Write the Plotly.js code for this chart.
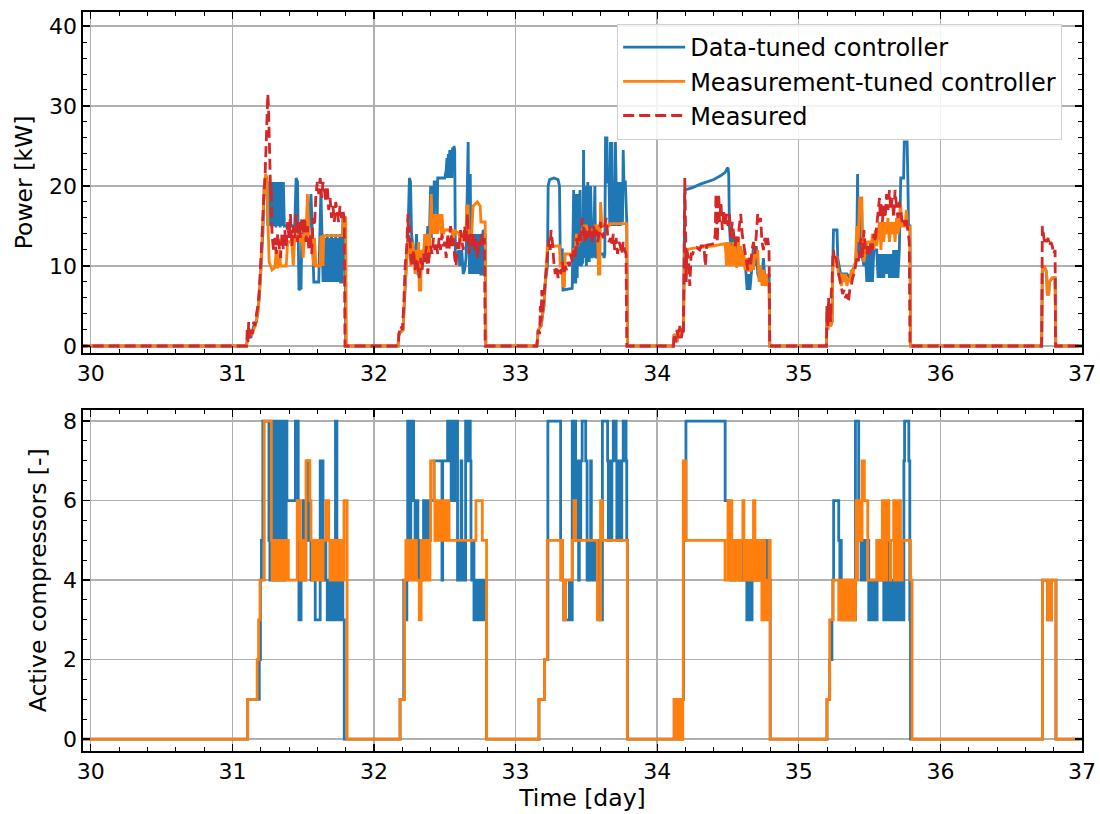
<!DOCTYPE html>
<html>
<head>
<meta charset="utf-8">
<script src="https://cdn.plot.ly/plotly-3.0.1.min.js"></script>
<style>html,body{margin:0;padding:0;background:#fff;}#chart{width:1100px;height:814px;}</style>
</head>
<body>
<div id="chart"></div>
<script>
// ---------------- DATA (time in days) ----------------
const seriesNames = ['Data-tuned controller', 'Measurement-tuned controller', 'Measured'];
const xTicks = [30, 31, 32, 33, 34, 35, 36, 37];
const powerTicks = [0, 10, 20, 30, 40];
const compTicks = [0, 2, 4, 6, 8];

// Power [kW] of data-tuned controller: [time, kW]
const powerDataTuned = [
[29.9,0],[31.10,0],[31.11,1.5],[31.13,1],[31.15,2.5],[31.17,3],[31.19,6],[31.205,10],[31.215,14],[31.225,20],[31.235,21],[31.245,20.5],[31.25,15],[31.255,20.5],[31.262,15],[31.27,20.5],[31.278,14.8],[31.285,20.5],[31.292,15],[31.30,20.5],[31.307,14.8],[31.315,20.5],[31.322,15],[31.33,20.5],[31.337,14.8],[31.345,20.5],[31.352,15],[31.36,20.5],[31.367,15],[31.44,15],[31.45,21],[31.46,20.5],[31.47,7],[31.485,7.2],[31.49,14],[31.54,14],[31.555,19],[31.565,14],[31.575,8],[31.61,8],[31.615,12.5],[31.625,19.5],[31.635,12.5],[31.64,8],[31.65,13.5],[31.66,8],[31.67,14],[31.675,8],[31.685,13.5],[31.69,8],[31.70,14],[31.705,8],[31.715,13.5],[31.72,8],[31.73,14],[31.735,8],[31.745,13.5],[31.75,8],[31.76,14],[31.765,8],[31.775,8],[31.78,16],[31.795,16],[31.80,0],
[32.17,0],[32.175,1.5],[32.205,2],[32.215,6],[32.225,10],[32.24,14],[32.25,21],[32.258,20.5],[32.265,14],[32.275,12],[32.29,10],[32.30,14],[32.31,9],[32.325,8.5],[32.335,11],[32.35,10.5],[32.36,14],[32.37,12],[32.38,15],[32.39,13],[32.40,20],[32.405,13.5],[32.41,20],[32.42,14],[32.425,20.5],[32.44,20.5],[32.445,14],[32.45,21],[32.50,21],[32.51,22],[32.515,23.5],[32.52,21],[32.525,24],[32.53,21],[32.535,24.5],[32.54,21.5],[32.545,24.5],[32.55,21],[32.555,24.8],[32.56,22],[32.565,25],[32.57,24.5],[32.575,11],[32.59,11.5],[32.60,12],[32.605,10],[32.62,12],[32.63,9],[32.64,9.5],[32.65,11],[32.66,21],[32.665,25.5],[32.67,14],[32.675,9],[32.68,21.5],[32.685,9],[32.69,14],[32.695,9],[32.70,14],[32.705,9],[32.71,14],[32.715,9],[32.72,14],[32.725,9],[32.73,14],[32.735,9],[32.74,14],[32.745,9],[32.75,14],[32.755,9],[32.765,9],[32.77,14.5],[32.785,14],[32.79,0],
[33.15,0],[33.16,2],[33.18,2.5],[33.19,4],[33.20,5],[33.21,8],[33.225,10],[33.23,20],[33.24,20.8],[33.27,21],[33.30,20.8],[33.31,20],[33.315,12],[33.33,12],[33.335,7],[33.40,7.2],[33.405,19],[33.41,19.5],[33.415,8],[33.425,8],[33.43,19],[33.435,8.5],[33.44,19],[33.445,10],[33.455,19.5],[33.46,10],[33.475,10.5],[33.48,24.5],[33.485,11],[33.495,20],[33.50,10],[33.51,20.5],[33.52,10.5],[33.53,20],[33.54,11],[33.55,11.5],[33.56,20],[33.565,11],[33.58,11.5],[33.62,11.5],[33.625,11],[33.63,11.5],[33.635,26],[33.645,26],[33.65,20.5],[33.66,20.5],[33.665,15],[33.67,25.5],[33.675,20.5],[33.68,25.5],[33.685,15],[33.69,20.5],[33.70,15],[33.705,25.5],[33.71,20.5],[33.72,15],[33.725,20.5],[33.74,15],[33.745,20.5],[33.755,15.5],[33.76,24.5],[33.765,20.5],[33.775,20.5],[33.78,15.5],[33.785,15.5],[33.79,0],
[34.115,0],[34.12,1.5],[34.14,0.5],[34.15,2],[34.16,1],[34.175,2],[34.185,2],[34.195,19.5],[34.25,19.8],[34.30,20.2],[34.35,20.5],[34.40,20.8],[34.45,21.3],[34.48,21.7],[34.495,22.2],[34.50,22.3],[34.505,21.5],[34.51,15],[34.52,12],[34.53,14],[34.54,12],[34.55,13.5],[34.56,11.5],[34.57,13],[34.58,12],[34.59,10.5],[34.60,12],[34.61,10],[34.62,11],[34.63,9],[34.635,7],[34.64,9],[34.645,7],[34.65,9],[34.655,7],[34.66,8],[34.67,10],[34.68,12.5],[34.69,10],[34.70,12.5],[34.71,9],[34.72,8.5],[34.73,10],[34.74,8.5],[34.75,11],[34.76,8.5],[34.78,8.5],[34.79,9],[34.795,0],
[35.195,0],[35.20,5],[35.205,2],[35.21,5],[35.215,3],[35.225,2.5],[35.235,3],[35.24,10],[35.245,14.5],[35.27,14.5],[35.275,11],[35.285,10],[35.295,9],[35.34,9],[35.36,8.5],[35.38,9.5],[35.40,10],[35.41,13],[35.415,21.5],[35.42,13],[35.43,11],[35.435,17],[35.445,17],[35.45,11],[35.46,10],[35.47,12],[35.48,8],[35.49,12],[35.50,8],[35.51,12.5],[35.52,8],[35.53,12],[35.55,12],[35.56,8.5],[35.57,11.5],[35.58,8.5],[35.59,11.5],[35.60,8.5],[35.61,11.5],[35.62,9],[35.63,11.5],[35.64,8.5],[35.65,11.5],[35.66,8.5],[35.67,12],[35.68,8.5],[35.69,12],[35.70,8.5],[35.71,12],[35.72,21],[35.74,21],[35.745,25.5],[35.765,25.5],[35.77,21],[35.775,15],[35.785,15],[35.79,0],
[36.715,0],[36.72,9.5],[36.73,10],[36.745,9.5],[36.75,9],[36.755,6.5],[36.765,6.5],[36.77,8],[36.79,8.5],[36.81,8.5],[36.815,0],[37.05,0]
];

// Power [kW] of measurement-tuned controller: [time, kW]
const powerMeasTuned = [
[29.9,0],[31.10,0],[31.11,1.5],[31.14,1.5],[31.16,2.5],[31.18,4],[31.20,9],[31.215,15],[31.225,20],[31.235,21.5],[31.245,21],[31.25,16],[31.26,10.5],[31.27,10],[31.28,9.5],[31.30,9.8],[31.31,12],[31.315,9.8],[31.33,10],[31.335,12],[31.34,10],[31.38,10],[31.39,13],[31.42,13],[31.43,10],[31.44,13.5],[31.47,14],[31.48,13],[31.49,14],[31.50,11],[31.51,14],[31.52,14],[31.53,19],[31.54,14],[31.56,13.5],[31.575,10],[31.58,13.5],[31.59,10],[31.62,10],[31.625,13.8],[31.64,10],[31.645,13.8],[31.78,13.8],[31.785,16],[31.80,16],[31.805,0],
[32.17,0],[32.175,1.5],[32.205,2],[32.215,6],[32.225,10],[32.235,12],[32.24,13],[32.25,13],[32.26,10],[32.27,13],[32.28,12],[32.29,9],[32.295,12],[32.31,9.5],[32.315,13],[32.32,7],[32.33,7],[32.335,12],[32.35,11.5],[32.36,14],[32.37,12],[32.38,14],[32.39,11],[32.40,18.5],[32.405,19],[32.41,14],[32.415,16.5],[32.42,14],[32.425,16.5],[32.43,14],[32.435,16.5],[32.44,14],[32.445,16.5],[32.45,14],[32.455,16.5],[32.46,14.5],[32.47,16.5],[32.475,14],[32.48,16.5],[32.49,14],[32.50,14.5],[32.55,14.5],[32.56,13],[32.57,14.5],[32.60,14],[32.61,13],[32.62,14],[32.65,14],[32.655,17.5],[32.665,17.5],[32.67,13],[32.69,14],[32.70,17.5],[32.73,18],[32.75,17.5],[32.755,15.5],[32.785,15.5],[32.79,0],
[33.15,0],[33.16,2],[33.18,2.5],[33.19,4],[33.20,5],[33.21,8],[33.22,11],[33.225,12.5],[33.31,12.5],[33.315,10],[33.33,10],[33.335,7.5],[33.345,7.5],[33.35,11.5],[33.40,11.5],[33.405,12],[33.42,12],[33.43,14],[33.44,12.5],[33.45,14],[33.46,13],[33.47,14.5],[33.48,15],[33.50,15],[33.51,14.5],[33.55,14.5],[33.56,15],[33.58,15],[33.585,9],[33.595,9],[33.60,18],[33.61,15],[33.66,15],[33.67,15.3],[33.785,15.3],[33.79,0],
[34.115,0],[34.12,1.5],[34.14,0.5],[34.15,2],[34.16,1],[34.175,2],[34.185,2],[34.195,12],[34.25,12.2],[34.30,12.3],[34.35,12.4],[34.40,12.5],[34.45,12.7],[34.48,12.8],[34.49,10],[34.50,13],[34.505,10],[34.51,13],[34.515,10],[34.52,12.5],[34.53,10],[34.535,13],[34.54,10],[34.55,12.5],[34.56,9.8],[34.57,10.5],[34.575,13.5],[34.58,10],[34.59,12.5],[34.60,10],[34.61,12],[34.62,9.5],[34.63,11],[34.64,9.3],[34.65,11],[34.66,9.3],[34.67,11.5],[34.68,9.5],[34.69,12],[34.70,11],[34.71,12],[34.72,8],[34.73,10],[34.74,7.5],[34.75,9.5],[34.76,7.5],[34.77,9],[34.78,7.5],[34.79,8],[34.795,0],
[35.195,0],[35.20,5],[35.205,2],[35.21,5],[35.215,3],[35.225,2.5],[35.235,3],[35.24,9.5],[35.25,11],[35.27,11],[35.28,9],[35.29,9],[35.30,7.5],[35.31,9],[35.32,8],[35.33,9],[35.34,7.5],[35.35,8.5],[35.36,8],[35.37,9.5],[35.38,8.5],[35.39,10],[35.40,10.5],[35.41,15],[35.42,13],[35.43,18.5],[35.445,18.5],[35.45,12],[35.46,10.5],[35.47,12],[35.48,13],[35.50,13],[35.51,12],[35.52,14],[35.53,12],[35.54,14.5],[35.55,12.5],[35.56,14],[35.57,15.5],[35.58,12],[35.59,15.5],[35.60,13],[35.61,15.5],[35.62,14],[35.63,16],[35.64,13],[35.65,15.5],[35.66,14],[35.67,15.5],[35.68,13],[35.69,16],[35.70,14],[35.71,15],[35.72,17.5],[35.73,15],[35.75,15],[35.76,17],[35.77,14.5],[35.785,15],[35.79,0],
[36.715,0],[36.72,9.5],[36.73,10],[36.745,9.5],[36.75,9],[36.755,6.5],[36.765,6.5],[36.77,8],[36.79,8.5],[36.81,8.5],[36.815,0],[37.05,0]
];

// Measured power [kW]: [time, kW]
const powerMeasured = [
[29.9,0],[31.10,0],[31.105,2],[31.11,0.5],[31.115,3],[31.12,1],[31.13,2],[31.14,1.5],[31.15,3],[31.16,2.5],[31.17,4],[31.18,5],[31.19,7],[31.20,10],[31.21,14],[31.22,18],[31.23,21],[31.24,26],[31.245,30],[31.25,31.5],[31.255,30],[31.26,27],[31.265,22],[31.27,19],[31.275,20],[31.28,14],[31.29,12],[31.30,13.5],[31.31,11.5],[31.32,14],[31.33,12.5],[31.34,11],[31.35,14],[31.36,12],[31.37,14.5],[31.38,12.5],[31.39,15.5],[31.40,13.5],[31.41,16.5],[31.42,12.5],[31.43,15],[31.44,13.5],[31.45,16.5],[31.46,13],[31.47,15.5],[31.48,13.5],[31.49,16],[31.50,14],[31.51,16],[31.52,13],[31.53,15],[31.54,12],[31.55,14],[31.56,11.5],[31.57,16],[31.58,15],[31.59,19],[31.60,20.5],[31.61,19],[31.62,21],[31.63,18.5],[31.64,20.5],[31.65,19.5],[31.66,18],[31.67,20],[31.68,17],[31.69,18.5],[31.70,16],[31.71,17.5],[31.72,15.5],[31.73,18],[31.74,17],[31.75,15.5],[31.76,17.5],[31.77,16],[31.78,17],[31.79,16],[31.795,0],
[32.17,0],[32.18,2],[32.19,2.5],[32.20,2],[32.21,5],[32.22,10],[32.23,12],[32.24,16.5],[32.245,13],[32.25,15],[32.26,11],[32.27,10],[32.28,12],[32.29,9.5],[32.30,11],[32.31,10],[32.32,8.5],[32.33,11],[32.34,9.5],[32.35,11.5],[32.36,10.5],[32.37,12.5],[32.38,9],[32.39,11.5],[32.40,12.5],[32.41,11.5],[32.42,13.5],[32.43,12],[32.44,13],[32.45,11.5],[32.46,13.5],[32.47,12],[32.48,14],[32.49,12.5],[32.50,13],[32.51,11],[32.52,14],[32.53,12],[32.54,15],[32.55,12.5],[32.56,13.5],[32.57,11],[32.58,10],[32.59,13],[32.60,12],[32.61,14.5],[32.62,13],[32.63,12],[32.64,15],[32.65,13],[32.66,16.5],[32.67,11.5],[32.68,14],[32.69,12.5],[32.70,14],[32.71,12],[32.72,13.5],[32.73,11],[32.74,13],[32.75,12.5],[32.76,14],[32.77,12.5],[32.78,13.5],[32.785,0],
[33.15,0],[33.16,2],[33.17,1.5],[33.175,5],[33.18,3],[33.185,7],[33.19,4],[33.20,6],[33.21,9],[33.22,10.5],[33.23,12.5],[33.24,13.5],[33.245,12],[33.25,14.5],[33.26,13],[33.27,10.5],[33.28,9],[33.29,10],[33.30,8.5],[33.31,9.5],[33.32,9],[33.33,10.5],[33.34,9],[33.35,10],[33.36,9.5],[33.37,10.5],[33.38,10],[33.39,11.5],[33.40,10.5],[33.41,12],[33.42,11],[33.43,13.5],[33.44,12.5],[33.45,14],[33.46,13],[33.47,16],[33.48,14.5],[33.49,13],[33.50,14.5],[33.51,13.5],[33.52,15],[33.53,14],[33.54,13],[33.55,15],[33.56,13.5],[33.57,14.5],[33.58,13],[33.59,14],[33.60,15.5],[33.61,14],[33.62,13.5],[33.63,15],[33.64,16],[33.65,14],[33.66,13],[33.67,13.5],[33.68,12.5],[33.69,14],[33.70,12],[33.71,13.5],[33.72,11.5],[33.73,13],[33.74,12.5],[33.75,11.5],[33.76,13],[33.77,12],[33.78,11.5],[33.785,0],
[34.115,0],[34.12,1.5],[34.13,0.5],[34.14,2],[34.15,1],[34.16,2.5],[34.17,1],[34.18,2],[34.185,1.5],[34.19,10],[34.195,21],[34.20,15],[34.205,8],[34.21,12],[34.22,11],[34.23,7.5],[34.24,11.5],[34.25,11.5],[34.26,12],[34.28,12.3],[34.30,12],[34.31,12.5],[34.33,12.5],[34.34,10],[34.35,12.6],[34.38,12.7],[34.40,12.8],[34.41,14],[34.415,19],[34.42,16],[34.425,13],[34.43,17.5],[34.435,19],[34.44,15.5],[34.45,18],[34.46,14.5],[34.47,17],[34.48,15],[34.49,16.5],[34.50,15],[34.51,16.5],[34.52,13.5],[34.53,15.5],[34.54,14],[34.55,12.5],[34.56,14],[34.57,13],[34.58,15],[34.59,16.5],[34.60,14],[34.61,13],[34.62,11.5],[34.63,10.5],[34.64,9.5],[34.65,11],[34.66,10],[34.67,12],[34.68,13],[34.69,11.5],[34.70,14],[34.71,16.5],[34.72,15.5],[34.73,16],[34.74,13],[34.75,12],[34.76,13.5],[34.77,12.5],[34.78,13.5],[34.79,12],[34.795,0],
[35.195,0],[35.20,5],[35.205,2.5],[35.21,6],[35.215,3],[35.22,5],[35.225,3],[35.23,7],[35.235,8],[35.24,11],[35.245,12],[35.25,11],[35.26,11.5],[35.27,10],[35.28,9],[35.29,8],[35.30,7.5],[35.31,6.5],[35.32,7],[35.33,6],[35.34,6.5],[35.35,5.5],[35.36,7],[35.37,7.5],[35.38,8.5],[35.39,9],[35.40,10],[35.41,11],[35.42,10.5],[35.43,12],[35.44,13.5],[35.45,11],[35.46,14.5],[35.47,12],[35.48,11.5],[35.49,12.5],[35.50,11.5],[35.51,13],[35.52,12],[35.53,14],[35.54,13],[35.55,15],[35.56,16.5],[35.57,18.5],[35.575,16],[35.58,18],[35.59,15.5],[35.60,17.5],[35.61,16],[35.62,19],[35.63,17],[35.64,19.5],[35.65,17],[35.66,18.5],[35.67,16],[35.68,19.5],[35.69,17.5],[35.70,16],[35.71,18],[35.72,17],[35.73,15.5],[35.74,16],[35.75,15],[35.76,16],[35.77,14],[35.78,13],[35.785,0],
[36.715,0],[36.72,15],[36.73,14],[36.735,13],[36.74,13.5],[36.75,13],[36.76,13.5],[36.77,12.5],[36.78,13],[36.79,12.5],[36.80,11.5],[36.81,12],[36.813,0],[37.05,0]
];

// Active compressors [-] of data-tuned controller: [time, count]
const compDataTuned = [
[29.9,0],[31.108,1],[31.19,2],[31.198,4],[31.205,5],[31.215,8],[31.258,5],[31.265,4],[31.278,8],[31.285,4],[31.29,8],[31.295,5],[31.30,8],[31.305,4],[31.31,8],[31.315,6],[31.32,8],[31.325,4],[31.33,8],[31.335,5],[31.34,8],[31.345,4],[31.35,8],[31.355,6],[31.36,8],[31.365,4],[31.37,8],[31.375,5],[31.38,8],[31.385,6],[31.445,8],[31.465,6],[31.47,3],[31.485,5],[31.49,4],[31.50,6],[31.505,4],[31.515,5],[31.528,7],[31.545,5],[31.555,4],[31.565,5],[31.585,3],[31.62,7],[31.64,4],[31.65,5],[31.66,4],[31.67,3],[31.68,4],[31.685,3],[31.69,5],[31.695,3],[31.70,4],[31.705,3],[31.71,5],[31.715,3],[31.728,8],[31.738,3],[31.745,4],[31.75,3],[31.755,5],[31.76,3],[31.765,4],[31.77,3],[31.775,5],[31.78,3],[31.79,0],
[32.184,1],[32.21,4],[32.225,3],[32.232,4],[32.238,8],[32.245,6],[32.25,8],[32.255,5],[32.26,8],[32.265,6],[32.27,8],[32.28,6],[32.29,5],[32.30,6],[32.31,4],[32.32,5],[32.335,4],[32.34,5],[32.35,6],[32.355,5],[32.36,6],[32.365,5],[32.37,6],[32.375,5],[32.38,6],[32.39,5],[32.40,6],[32.424,7],[32.48,4],[32.485,7],[32.52,8],[32.525,7],[32.53,8],[32.535,7],[32.54,8],[32.545,6],[32.55,8],[32.555,7],[32.56,8],[32.565,6],[32.57,8],[32.575,7],[32.58,8],[32.59,4],[32.595,5],[32.60,4],[32.605,5],[32.61,4],[32.615,7],[32.62,4],[32.625,5],[32.63,4],[32.635,5],[32.64,4],[32.647,8],[32.655,7],[32.66,8],[32.665,7],[32.67,8],[32.68,7],[32.685,5],[32.69,4],[32.70,5],[32.706,3],[32.71,4],[32.715,3],[32.72,4],[32.725,3],[32.73,4],[32.735,3],[32.74,4],[32.745,3],[32.75,4],[32.755,3],[32.76,4],[32.765,3],[32.77,4],[32.775,3],[32.78,4],[32.795,0],
[33.165,1],[33.205,2],[33.228,8],[33.318,5],[33.33,4],[33.34,3],[33.345,4],[33.35,3],[33.38,4],[33.385,3],[33.40,8],[33.41,6],[33.415,8],[33.424,5],[33.43,7],[33.435,5],[33.44,7],[33.445,4],[33.45,7],[33.455,5],[33.46,7],[33.47,8],[33.495,7],[33.505,4],[33.51,5],[33.515,4],[33.52,5],[33.525,4],[33.53,7],[33.535,4],[33.54,5],[33.545,4],[33.55,5],[33.555,4],[33.565,5],[33.575,4],[33.585,5],[33.594,3],[33.613,8],[33.65,7],[33.655,5],[33.66,7],[33.665,5],[33.67,7],[33.675,5],[33.68,7],[33.69,8],[33.71,7],[33.715,5],[33.72,7],[33.725,5],[33.73,7],[33.735,5],[33.74,7],[33.745,5],[33.75,7],[33.76,8],[33.78,7],[33.785,5],[33.79,0],
[34.12,1],[34.125,0],[34.13,1],[34.135,0],[34.14,1],[34.145,0],[34.15,1],[34.155,0],[34.16,1],[34.165,0],[34.17,1],[34.175,0],[34.18,1],[34.186,5],[34.203,8],[34.48,6],[34.503,5],[34.52,4],[34.55,5],[34.58,4],[34.60,5],[34.62,4],[34.633,3],[34.64,4],[34.645,3],[34.65,4],[34.655,3],[34.66,4],[34.665,3],[34.67,4],[34.68,5],[34.695,4],[34.71,5],[34.725,4],[34.74,5],[34.755,4],[34.77,5],[34.785,4],[34.798,0],
[35.199,1],[35.218,2],[35.234,3],[35.241,4],[35.246,6],[35.282,5],[35.29,4],[35.295,5],[35.30,4],[35.305,3],[35.31,4],[35.317,3],[35.33,4],[35.34,3],[35.345,4],[35.35,3],[35.355,4],[35.36,3],[35.365,4],[35.37,3],[35.375,4],[35.38,3],[35.385,4],[35.39,3],[35.40,8],[35.423,5],[35.44,4],[35.447,5],[35.463,4],[35.47,5],[35.494,3],[35.50,4],[35.505,3],[35.51,4],[35.515,3],[35.52,4],[35.525,3],[35.53,4],[35.535,3],[35.54,4],[35.545,3],[35.553,4],[35.60,3],[35.61,4],[35.615,3],[35.62,4],[35.625,3],[35.636,5],[35.645,3],[35.65,4],[35.655,3],[35.66,4],[35.665,3],[35.67,4],[35.675,3],[35.68,4],[35.685,3],[35.69,4],[35.695,3],[35.70,4],[35.706,3],[35.718,5],[35.73,3],[35.742,7],[35.747,8],[35.777,7],[35.784,3],[35.789,0],
[36.721,4],[36.757,3],[36.762,4],[36.767,3],[36.772,4],[36.777,3],[36.785,4],[36.816,0],[37.05,0]
];

// Active compressors [-] of measurement-tuned controller: [time, count]
const compMeasTuned = [
[29.9,0],[31.108,1],[31.175,2],[31.185,3],[31.195,4],[31.225,8],[31.275,5],[31.28,4],[31.30,5],[31.305,4],[31.31,5],[31.315,4],[31.32,5],[31.325,4],[31.33,5],[31.335,4],[31.34,5],[31.345,4],[31.35,5],[31.355,4],[31.36,5],[31.365,4],[31.37,5],[31.375,4],[31.38,5],[31.385,4],[31.39,5],[31.395,4],[31.458,6],[31.465,5],[31.47,6],[31.48,4],[31.49,5],[31.50,4],[31.52,7],[31.547,6],[31.555,5],[31.565,4],[31.575,5],[31.585,4],[31.60,5],[31.61,4],[31.62,5],[31.63,4],[31.64,5],[31.66,6],[31.68,5],[31.69,4],[31.695,5],[31.70,4],[31.705,5],[31.71,4],[31.72,5],[31.73,4],[31.74,5],[31.75,4],[31.76,5],[31.77,4],[31.788,6],[31.81,0],
[32.184,1],[32.216,4],[32.225,5],[32.23,4],[32.235,5],[32.24,4],[32.245,5],[32.25,4],[32.255,5],[32.26,4],[32.265,5],[32.27,4],[32.29,5],[32.30,4],[32.32,3],[32.333,5],[32.338,4],[32.343,5],[32.348,4],[32.353,5],[32.358,4],[32.363,5],[32.368,4],[32.373,5],[32.378,4],[32.383,5],[32.388,4],[32.395,5],[32.40,7],[32.424,6],[32.43,5],[32.435,6],[32.44,5],[32.445,6],[32.45,5],[32.455,6],[32.46,5],[32.465,6],[32.47,5],[32.475,6],[32.48,5],[32.485,6],[32.49,5],[32.495,6],[32.50,5],[32.505,6],[32.51,5],[32.515,6],[32.53,5],[32.72,6],[32.765,5],[32.795,0],
[33.165,1],[33.205,2],[33.224,5],[33.318,4],[33.325,5],[33.33,4],[33.341,3],[33.353,4],[33.40,5],[33.412,6],[33.424,5],[33.577,3],[33.60,6],[33.612,5],[33.789,0],
[34.12,1],[34.125,0],[34.13,1],[34.135,0],[34.14,1],[34.145,0],[34.15,1],[34.155,0],[34.16,1],[34.165,0],[34.17,1],[34.175,0],[34.18,1],[34.184,7],[34.203,5],[34.479,4],[34.50,6],[34.507,4],[34.52,6],[34.527,5],[34.54,4],[34.555,5],[34.575,4],[34.59,5],[34.605,6],[34.612,4],[34.625,5],[34.635,4],[34.645,5],[34.655,4],[34.665,5],[34.675,4],[34.68,6],[34.69,4],[34.70,5],[34.71,4],[34.72,5],[34.73,4],[34.739,3],[34.75,5],[34.76,3],[34.77,4],[34.78,3],[34.79,5],[34.798,0],
[35.199,1],[35.218,3],[35.241,4],[35.282,3],[35.29,4],[35.295,3],[35.30,4],[35.305,3],[35.31,4],[35.315,3],[35.32,4],[35.325,3],[35.33,4],[35.335,3],[35.34,4],[35.345,3],[35.35,4],[35.355,3],[35.36,4],[35.365,3],[35.37,4],[35.375,3],[35.38,4],[35.385,3],[35.39,4],[35.395,3],[35.40,4],[35.405,6],[35.411,4],[35.415,6],[35.42,5],[35.425,6],[35.44,5],[35.447,7],[35.463,6],[35.487,4],[35.55,5],[35.553,4],[35.56,5],[35.565,4],[35.57,5],[35.577,4],[35.585,5],[35.59,6],[35.595,4],[35.60,6],[35.605,5],[35.61,6],[35.615,4],[35.62,6],[35.625,5],[35.63,6],[35.636,5],[35.645,4],[35.65,5],[35.67,6],[35.675,4],[35.68,5],[35.69,6],[35.695,4],[35.706,6],[35.718,5],[35.725,4],[35.73,5],[35.789,4],[35.80,0],
[36.721,4],[36.757,3],[36.762,4],[36.767,3],[36.772,4],[36.777,3],[36.785,4],[36.816,0],[37.05,0]
];

// ---------------- STYLE ----------------
const C_BLUE = '#1f77b4', C_ORANGE = '#ff7f0e', C_RED = '#d62728';
const FONT = 'DejaVu Sans, Liberation Sans, sans-serif';
const col = (arr, i) => arr.map(p => p[i]);

const traces = [
  {x: col(powerDataTuned,0), y: col(powerDataTuned,1), xaxis:'x', yaxis:'y', type:'scatter', mode:'lines',
   name: seriesNames[0], line:{color:C_BLUE, width:2.8}},
  {x: col(powerMeasTuned,0), y: col(powerMeasTuned,1), xaxis:'x', yaxis:'y', type:'scatter', mode:'lines',
   name: seriesNames[1], line:{color:C_ORANGE, width:2.8}},
  {x: col(powerMeasured,0), y: col(powerMeasured,1), xaxis:'x', yaxis:'y', type:'scatter', mode:'lines',
   name: seriesNames[2], line:{color:C_RED, width:2.8, dash:'11px,5px'}},
  {x: col(compDataTuned,0), y: col(compDataTuned,1), xaxis:'x2', yaxis:'y2', type:'scatter', mode:'lines',
   name: seriesNames[0], showlegend:false, line:{color:C_BLUE, width:2.8, shape:'hv'}},
  {x: col(compMeasTuned,0), y: col(compMeasTuned,1), xaxis:'x2', yaxis:'y2', type:'scatter', mode:'lines',
   name: seriesNames[1], showlegend:false, line:{color:C_ORANGE, width:2.8, shape:'hv'}}
];

function xAxis(anchor, title) {
  const a = {
    anchor: anchor, domain:[0,1], range:[29.945, 37], tickvals: xTicks,
    ticks:'inside', ticklen:7, tickwidth:1.3, tickcolor:'#000',
    showline:true, linecolor:'#000', linewidth:1.6, mirror:'allticks',
    showgrid:true, gridcolor:'#b0b0b0', gridwidth:1.4, zeroline:false,
    tickfont:{family:FONT, size:22, color:'#000'},
    minor:{ticks:'inside', ticklen:4, tickwidth:1, tickcolor:'#000', dtick:0.2, tick0:30, showgrid:false}
  };
  if (title) a.title = {text:title, font:{family:FONT, size:23.5, color:'#000'}, standoff:6};
  return a;
}
function yAxis(anchor, domain, range, tickvals, minorDtick, title) {
  return {
    anchor: anchor, domain: domain, range: range, tickvals: tickvals,
    ticks:'inside', ticklen:7, tickwidth:1.3, tickcolor:'#000',
    showline:true, linecolor:'#000', linewidth:1.6, mirror:'allticks',
    showgrid:true, gridcolor:'#b0b0b0', gridwidth:1.4, zeroline:false,
    tickfont:{family:FONT, size:22, color:'#000'},
    minor:{ticks:'inside', ticklen:4, tickwidth:1, tickcolor:'#000', dtick:minorDtick, tick0:0, showgrid:false},
    title:{text:title, font:{family:FONT, size:23.5, color:'#000'}, standoff:10}
  };
}

const layout = {
  width:1100, height:814,
  margin:{l:83, r:18, t:12, b:63, pad:0},
  paper_bgcolor:'#fff', plot_bgcolor:'#fff',
  font:{family:FONT, size:22, color:'#000'},
  showlegend:true,
  xaxis: xAxis('y', null),
  yaxis: yAxis('x', [0.5386, 1], [-0.875, 41.75], powerTicks, 2, 'Power [kW]'),
  xaxis2: xAxis('y2', 'Time [day]'),
  yaxis2: yAxis('x2', [0, 0.462], [-0.3, 8.29], compTicks, 0.5, 'Active compressors [-]'),
  legend:{x:0.5345, y:0.984, xanchor:'left', yanchor:'top', bgcolor:'rgba(255,255,255,0.85)',
          bordercolor:'#d0d0d0', borderwidth:1.2, font:{family:FONT, size:24, color:'#000'},
          itemwidth:62, traceorder:'normal'}
};

Plotly.newPlot('chart', traces, layout, {displayModeBar:false, staticPlot:true});
</script>
</body>
</html>
